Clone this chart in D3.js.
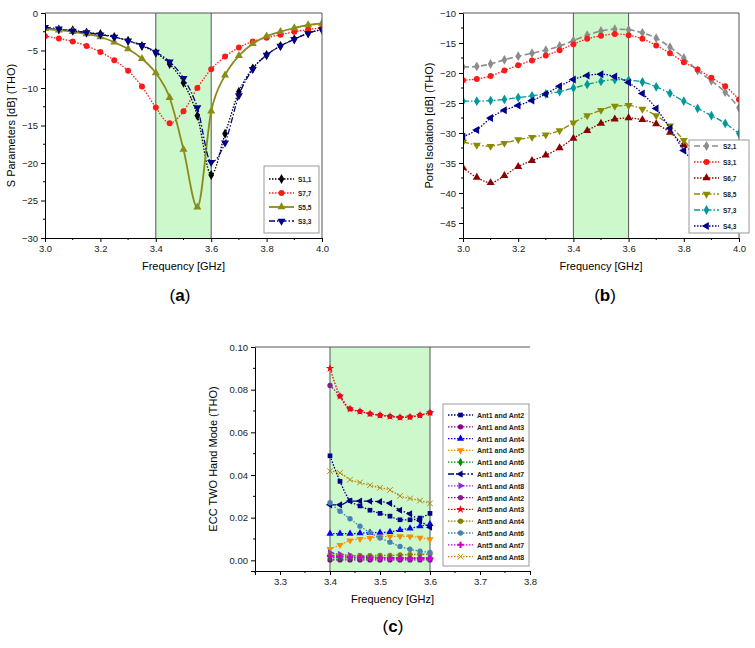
<!DOCTYPE html>
<html><head><meta charset="utf-8">
<script src="https://cdn.jsdelivr.net/npm/d3@7"></script>
<style>body{margin:0;background:#fff}text{font-family:"Liberation Sans",Arial,sans-serif}</style>
</head><body><svg id="fig" width="755" height="648"></svg>
<script>
// panel a data
var freqA=[3.0,3.05,3.1,3.15,3.2,3.25,3.3,3.35,3.4,3.45,3.5,3.55,3.6,3.65,3.7,3.75,3.8,3.85,3.9,3.95,4.0];
var s11=[-2,-2.2,-2.3,-2.6,-2.8,-3.2,-3.7,-4.4,-5.3,-6.8,-9.3,-13.7,-21.6,-16.1,-10.5,-7.4,-5.6,-4.4,-3.5,-2.7,-2.2];
var s77=[-3.1,-3.4,-3.8,-4.4,-5.2,-6.3,-7.7,-9.8,-12.6,-14.7,-13.1,-10,-7.5,-5.8,-4.6,-3.8,-3.3,-2.9,-2.5,-2.2,-2.0];
var s55=[-2.1,-2.3,-2.5,-2.8,-3.2,-3.9,-4.8,-6.1,-8.0,-11.3,-18.2,-25.9,-13.1,-8.3,-5.7,-4.1,-3.1,-2.5,-2.0,-1.6,-1.4];
var s33=[-1.9,-2.1,-2.4,-2.6,-2.9,-3.2,-3.7,-4.3,-5.2,-6.5,-8.7,-12.6,-19.9,-17.3,-11,-7.5,-5.6,-4.4,-3.5,-2.7,-2.2];
// panel b data
var s21=[-19,-18.9,-18.5,-17.8,-17.2,-16.7,-16.2,-15.5,-14.6,-13.7,-13,-12.7,-12.8,-13.3,-14.2,-15.7,-17.5,-19.6,-21.3,-23.2,-25.8];
var s31=[-21.2,-21,-20.5,-19.6,-18.7,-17.9,-17.1,-16.2,-15.2,-14.3,-13.8,-13.5,-13.7,-14.3,-15.4,-16.7,-18.2,-19.4,-20.8,-22.2,-24.4];
var s67=[-35.8,-37.4,-38.3,-37.1,-35.6,-34.6,-33.7,-32.5,-30.9,-29.6,-28.4,-27.7,-27.5,-27.8,-28.5,-29.9,-32,-34,-36.5,-38.5,-39.8];
var s85=[-31.5,-32,-32.2,-31.7,-31.1,-30.7,-30.3,-29.6,-28.3,-27.1,-26.2,-25.5,-25.4,-26,-27.1,-28.8,-31.2,-34,-36.5,-39,-40.8];
var s73=[-24.7,-24.7,-24.6,-24.4,-24.1,-23.8,-23.5,-23.1,-22.5,-21.9,-21.4,-21.1,-21.2,-21.5,-22.3,-23.4,-24.7,-25.9,-27.1,-28.4,-30.1];
var s43=[-30.6,-29.5,-27.5,-26.2,-25.4,-24.6,-23.5,-22.2,-21.1,-20.4,-20.2,-20.6,-21.6,-23.4,-25.9,-29.2,-32.9,-35.5,-38.5,-41,-43.2];
// panel c data
var freqC=[3.40,3.42,3.44,3.46,3.48,3.50,3.52,3.54,3.56,3.58,3.60];
var a12=[0.049,0.037,0.028,0.0255,0.0235,0.022,0.0207,0.019,0.019,0.0198,0.022];
var a13=[0.0002,0.0002,0.0002,0.0002,0.0002,0.0002,0.0002,0.0002,0.0002,0.0002,0.0002];
var a14=[0.0125,0.0125,0.0125,0.0127,0.013,0.013,0.0133,0.0143,0.015,0.016,0.017];
var a15=[0.0053,0.0072,0.0093,0.01,0.0105,0.011,0.0112,0.0113,0.0112,0.0106,0.0098];
var a16=[0.0012,0.0012,0.0011,0.0011,0.0011,0.0011,0.0011,0.0011,0.0011,0.0011,0.0011];
var a17=[0.026,0.026,0.0278,0.0278,0.0277,0.0275,0.0267,0.0235,0.0218,0.0185,0.0155];
var a18=[0.0035,0.0028,0.0023,0.0019,0.0016,0.0014,0.0012,0.0011,0.001,0.001,0.001];
var a52=[0.082,0.077,0.071,0.0698,0.0687,0.068,0.0675,0.067,0.0672,0.068,0.0692];
var a53=[0.090,0.077,0.071,0.0698,0.0687,0.068,0.0675,0.067,0.0672,0.068,0.0692];
var a54=[0.0025,0.0023,0.0022,0.0022,0.0022,0.0023,0.0023,0.0025,0.0027,0.0028,0.003];
var a56=[0.027,0.023,0.0195,0.016,0.013,0.0105,0.0085,0.0065,0.0052,0.0043,0.0037];
var a57=[0.002,0.0018,0.0015,0.0013,0.0012,0.0011,0.001,0.001,0.0009,0.0009,0.0009];
var a58=[0.0418,0.041,0.0378,0.0365,0.0352,0.034,0.033,0.0302,0.029,0.028,0.0267];

var svg=d3.select("#fig");
var DOT="1.5,1.5",DASH="6,3",DDOT="6,2,1.5,2";

function sym(kind){
  var t={diamond:d3.symbolDiamond,circle:d3.symbolCircle,tri:d3.symbolTriangle,down:d3.symbolTriangle,
    left:d3.symbolTriangle,right:d3.symbolTriangle,square:d3.symbolSquare,star:d3.symbolStar,plus:d3.symbolCross,x:d3.symbolTimes}[kind];
  return t;
}
function rot(kind){return kind=="down"?180:kind=="left"?-90:kind=="right"?90:0;}
function marker(g,kind,col,x,y,size){
  var p=g.append("path").attr("d",d3.symbol(sym(kind),size)())
   .attr("transform","translate("+x+","+y+")rotate("+rot(kind)+")");
  if(kind=="x"||kind=="plus"&&false) p.attr("fill","none").attr("stroke",col).attr("stroke-width",1);
  else p.attr("fill",col);
}

function panel(o){
  var g=svg.append("g");
  var x=d3.scaleLinear().domain(o.xd).range([o.l,o.r]);
  var y=d3.scaleLinear().domain(o.yd).range([o.b,o.t]);
  g.append("rect").attr("x",x(3.4)).attr("y",o.t).attr("width",x(3.6)-x(3.4)).attr("height",o.b-o.t).attr("fill","#ccf8cc");
  [3.4,3.6].forEach(function(v){g.append("line").attr("x1",x(v)).attr("x2",x(v)).attr("y1",o.t).attr("y2",o.b).attr("stroke","#555").attr("stroke-width",1);});
  var line=d3.line().x(function(d){return x(d[0]);}).y(function(d){return y(d[1]);}).curve(d3.curveMonotoneX);
  var cg=g.append("g").attr("clip-path","url(#"+o.id+")");
  g.append("clipPath").attr("id",o.id).append("rect").attr("x",o.l).attr("y",o.t-6).attr("width",o.r-o.l).attr("height",o.b-o.t+6);
  o.series.forEach(function(s){
    var pts=o.xs.map(function(v,i){return [v,s.v[i]];});
    cg.append("path").attr("d",line(pts)).attr("fill","none").attr("stroke",s.c).attr("stroke-width",s.w||1.3).attr("stroke-dasharray",s.dash);
    pts.forEach(function(p){marker(cg,s.m,s.c,x(p[0]),y(p[1]),o.ms);});
  });
  var ax=d3.axisBottom(x).tickValues(o.xt).tickFormat(d3.format(o.xf)).tickSizeOuter(0).tickSize(4);
  var ay=d3.axisLeft(y).tickValues(o.yt).tickFormat(d3.format(o.yf)).tickSizeOuter(0).tickSize(4);
  g.append("g").attr("transform","translate(0,"+o.b+")").call(ax).call(function(a){a.selectAll("text").attr("font-size",9.5).attr("fill","#222");});
  g.append("g").attr("transform","translate("+o.l+",0)").call(ay).call(function(a){a.selectAll("text").attr("font-size",9.5).attr("fill","#222");});
  // minor ticks
  o.xm.forEach(function(v){g.append("line").attr("x1",x(v)).attr("x2",x(v)).attr("y1",o.b).attr("y2",o.b+2).attr("stroke","#000");});
  o.ym.forEach(function(v){g.append("line").attr("x1",o.l).attr("x2",o.l-2).attr("y1",y(v)).attr("y2",y(v)).attr("stroke","#000");});
  g.append("line").attr("x1",o.l).attr("x2",o.r).attr("y1",o.t).attr("y2",o.t).attr("stroke","#555").attr("stroke-width",1.2);
  if(o.rightFrame) g.append("line").attr("x1",o.r).attr("x2",o.r).attr("y1",o.t).attr("y2",o.b).attr("stroke","#555");
  g.append("text").attr("x",(o.l+o.r)/2).attr("y",o.b+32).attr("text-anchor","middle").attr("font-size",11).text("Frequency [GHz]");
  g.append("text").attr("transform","translate("+(o.l-o.yl)+","+((o.t+o.b)/2)+")rotate(-90)").attr("text-anchor","middle").attr("font-size",11).text(o.ylabel);
  // legend
  var L=o.leg;
  g.append("rect").attr("x",L.x).attr("y",L.y).attr("width",L.w).attr("height",L.h).attr("fill","#fff").attr("stroke","#999");
  o.series.forEach(function(s,i){
    var yy=L.y+L.p+i*L.dy;
    g.append("line").attr("x1",L.x+5).attr("x2",L.x+30).attr("y1",yy).attr("y2",yy).attr("stroke",s.c).attr("stroke-width",s.w||1.3).attr("stroke-dasharray",s.dash);
    marker(g,s.m,s.c,L.x+17.5,yy,o.ms);
    g.append("text").attr("x",L.x+34).attr("y",yy+3).attr("font-size",L.fs).attr("font-weight","bold").attr("fill","#222").text(s.n);
  });
  g.append("text").attr("x",o.cap[0]).attr("y",o.cap[1]).attr("text-anchor","middle").attr("font-family","Liberation Serif,serif").attr("font-size",17).text("(").append("tspan").attr("font-weight","bold").text(o.capL).append("tspan").attr("font-weight","normal").text(")");
}

function rng(a,b,s){var r=[];for(var v=a;v<=b+1e-9;v+=s)r.push(+v.toFixed(4));return r;}

panel({id:"ca",l:45,r:322,t:13,b:238,xd:[3,4],yd:[-30,0],xs:freqA,ms:28,
  xt:rng(3,4,0.2),xf:".1f",yt:rng(-30,0,5),yf:"d",xm:rng(3.1,3.9,0.2),ym:rng(-27.5,-2.5,5),
  ylabel:"S Parameters [dB] (THO)",yl:30,rightFrame:true,cap:[180,301],capL:"a",
  leg:{x:264,y:166,w:55,h:67,p:13,dy:14,fs:6.5},
  series:[{n:"S1,1",v:s11,c:"#000",m:"diamond",dash:DOT},
    {n:"S7,7",v:s77,c:"#ff1a1a",m:"circle",dash:DOT},
    {n:"S5,5",v:s55,c:"#8b8b1a",m:"tri",dash:null,w:1.8},
    {n:"S3,3",v:s33,c:"#00008b",m:"down",dash:DDOT}]});

panel({id:"cb",l:463,r:739,t:13,b:238,xd:[3,4],yd:[-47.5,-10],xs:freqA,ms:28,
  xt:rng(3,4,0.2),xf:".1f",yt:rng(-45,-10,5),yf:"d",xm:rng(3.1,3.9,0.2),ym:rng(-42.5,-12.5,5),
  ylabel:"Ports Isolation [dB] (THO)",yl:30,rightFrame:true,cap:[605,301],capL:"b",
  leg:{x:689,y:140,w:60,h:93,p:6,dy:16,fs:6.5},
  series:[{n:"S2,1",v:s21,c:"#8c8c8c",m:"diamond",dash:DASH,w:1.6},
    {n:"S3,1",v:s31,c:"#ff1a1a",m:"circle",dash:DOT},
    {n:"S6,7",v:s67,c:"#8b0000",m:"tri",dash:DOT},
    {n:"S8,5",v:s85,c:"#8b8b00",m:"down",dash:DDOT},
    {n:"S7,3",v:s73,c:"#009999",m:"diamond",dash:DDOT},
    {n:"S4,3",v:s43,c:"#00008b",m:"left",dash:DOT}]});

panel({id:"cc",l:255,r:530,t:347,b:571,xd:[3.25,3.8],yd:[-0.005,0.1],xs:freqC,ms:22,
  xt:rng(3.3,3.8,0.1),xf:".1f",yt:rng(0,0.1,0.02),yf:".2f",xm:rng(3.25,3.75,0.1),ym:rng(0.01,0.09,0.02),
  ylabel:"ECC TWO Hand Mode (THO)",yl:38,rightFrame:false,cap:[393,632],capL:"c",
  leg:{x:443,y:404,w:86,h:162,p:11,dy:11.8,fs:7},
  series:[{n:"Ant1 and Ant2",v:a12,c:"#00008b",m:"square",dash:DOT},
    {n:"Ant1 and Ant3",v:a13,c:"#8b008b",m:"circle",dash:DOT},
    {n:"Ant1 and Ant4",v:a14,c:"#0000ff",m:"tri",dash:DOT},
    {n:"Ant1 and Ant5",v:a15,c:"#ff8c00",m:"down",dash:DOT},
    {n:"Ant1 and Ant6",v:a16,c:"#008b00",m:"diamond",dash:DOT},
    {n:"Ant1 and Ant7",v:a17,c:"#000080",m:"left",dash:DDOT},
    {n:"Ant1 and Ant8",v:a18,c:"#8a2be2",m:"right",dash:DOT},
    {n:"Ant5 and Ant2",v:a52,c:"#8b1a8b",m:"circle",dash:DOT},
    {n:"Ant5 and Ant3",v:a53,c:"#ff0000",m:"star",dash:DOT},
    {n:"Ant5 and Ant4",v:a54,c:"#808000",m:"circle",dash:DOT},
    {n:"Ant5 and Ant6",v:a56,c:"#4682b4",m:"circle",dash:DOT},
    {n:"Ant5 and Ant7",v:a57,c:"#cc00cc",m:"plus",dash:DOT},
    {n:"Ant5 and Ant8",v:a58,c:"#b8860b",m:"x",dash:DOT}]});
</script></body></html>
